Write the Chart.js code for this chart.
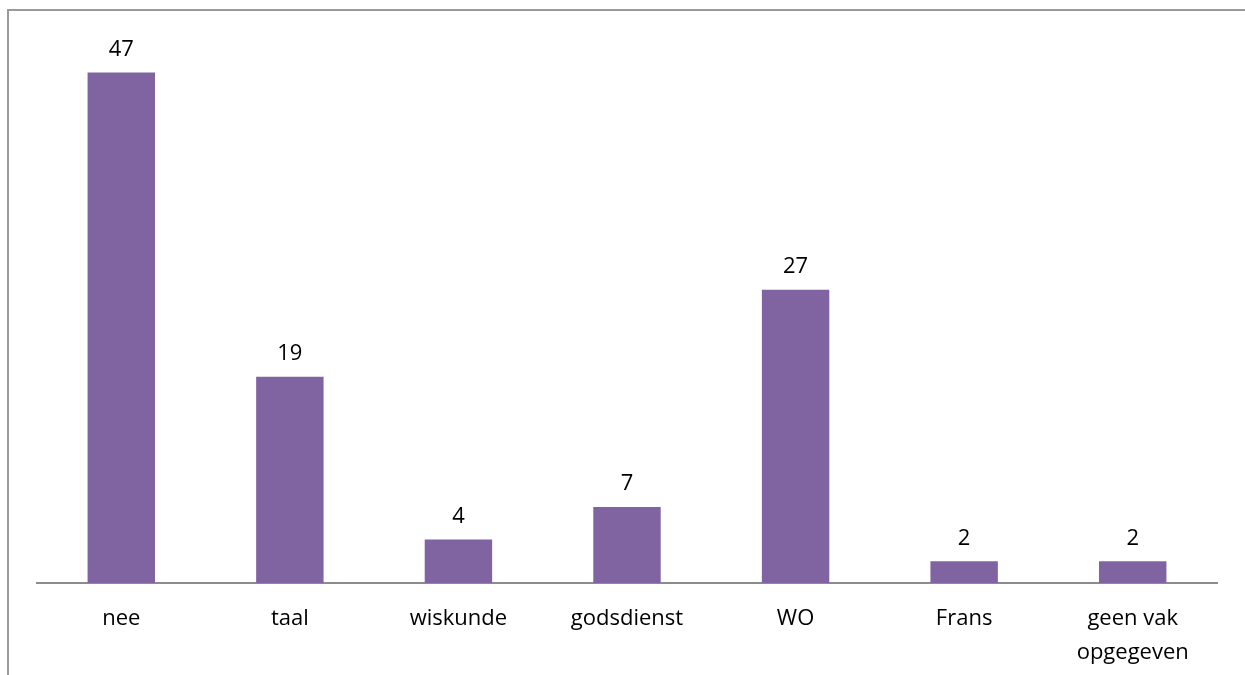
<!DOCTYPE html>
<html>
<head>
<meta charset="utf-8">
<script src="https://cdn.jsdelivr.net/npm/chart.js@4"></script>
<style>
  html, body { margin: 0; padding: 0; background: #fff; }
  #wrap { width: 1245px; height: 675px; position: relative; }
</style>
</head>
<body>
<div id="wrap"><canvas id="bar-chart"></canvas></div>
<script>
const categories = ["nee", "taal", "wiskunde", "godsdienst", "WO", "Frans", ["geen vak", "opgegeven"]];
const counts = [47, 19, 4, 7, 27, 2, 2];
const barColor = "#8064A2";

// values above each bar
const valueLabels = {
  id: "valueLabels",
  afterDatasetsDraw(chart) {
    const ctx = chart.ctx;
    const meta = chart.getDatasetMeta(0);
    ctx.save();
    ctx.font = "22px 'Open Sans'";
    ctx.fillStyle = "#000";
    ctx.textAlign = "center";
    ctx.textBaseline = "bottom";
    meta.data.forEach((bar, i) => {
      ctx.fillText(counts[i], bar.x, bar.y - 12);
    });
    ctx.restore();
  },
};

// the outer frame of the chart
const frame = {
  id: "frame",
  beforeDraw(chart) {
    const ctx = chart.ctx;
    ctx.save();
    ctx.strokeStyle = "#9a9a9a";
    ctx.lineWidth = 2;
    ctx.strokeRect(8, 10, chart.width + 20, chart.height + 20);
    ctx.restore();
  },
};

const chartEl = document.getElementById("bar-chart");

document.addEventListener("DOMContentLoaded", () => {
  new Chart(chartEl, {
    type: "bar",
    data: {
      labels: categories,
      datasets: [
        {
          data: counts,
          backgroundColor: barColor,
          barPercentage: 0.4,
          categoryPercentage: 1,
        },
      ],
    },
    options: {
      responsive: true,
      maintainAspectRatio: false,
      animation: false,
      layout: { padding: { left: 37, right: 28, top: 40, bottom: 0 } },
      plugins: { legend: { display: false }, tooltip: { enabled: false } },
      scales: {
        y: { display: false, min: 0, max: 50 },
        x: {
          grid: { display: false, drawTicks: false },
          border: { display: true, color: "#8c8c8c", width: 2 },
          ticks: {
            color: "#000",
            padding: 19,
            maxRotation: 0,
            autoSkip: false,
            font: { family: "'Open Sans'", size: 22, lineHeight: 1.55 },
          },
          afterFit(scale) {
            scale.height = 92;
          },
        },
      },
    },
    plugins: [frame, valueLabels],
  });
});
</script>
</body>
</html>
